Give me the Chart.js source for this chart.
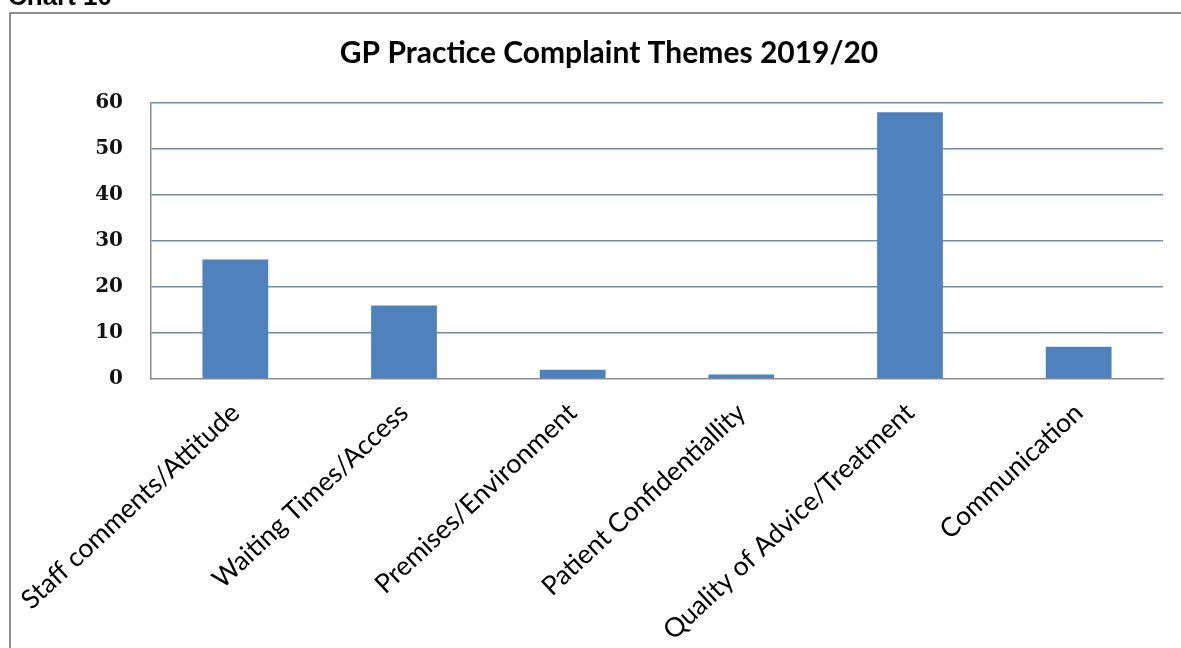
<!DOCTYPE html>
<html>
<head>
<meta charset="utf-8">
<script src="https://cdn.jsdelivr.net/npm/chart.js@4"></script>
<style>
  html, body { margin: 0; padding: 0; background: #fff; overflow: hidden; }
  #wrap { position: relative; width: 1181px; height: 648px; }
</style>
</head>
<body>
<div id="wrap"><canvas id="c" width="1181" height="648"></canvas></div>
<script>
// Complaint themes and counts for the year
const categories = [
  'Staff comments/Attitude',
  'Waiting Times/Access',
  'Premises/Environment',
  'Patient Confidentiallity',
  'Quality of Advice/Treatment',
  'Communication'
];
const complaints = [26, 16, 2, 1, 58, 7];
const yTicks = [0, 10, 20, 30, 40, 50, 60];

const chartTitle = 'GP Practice Complaint Themes 2019/20';
const captionText = 'Chart 10';

// Frame around the chart plus the caption heading above it
const framePlugin = {
  id: 'frame',
  beforeDraw(chart) {
    const ctx = chart.ctx;
    ctx.save();
    ctx.fillStyle = '#ffffff';
    ctx.fillRect(0, 0, chart.width, chart.height);
    ctx.strokeStyle = '#8e8e8e';
    ctx.lineWidth = 2;
    ctx.strokeRect(10, 13, chart.width + 40, chart.height + 40);
    ctx.fillStyle = '#000000';
    ctx.font = 'bold 26px "Liberation Sans", Arial, sans-serif';
    ctx.textBaseline = 'alphabetic';
    ctx.textAlign = 'left';
    ctx.fillText(captionText, 8, 5);
    ctx.restore();
  }
};

new Chart(document.getElementById('c'), {
  type: 'bar',
  data: {
    labels: categories,
    datasets: [{
      data: complaints,
      backgroundColor: '#4f81bd',
      borderWidth: 0,
      barPercentage: 0.39,
      categoryPercentage: 1.0
    }]
  },
  options: {
    responsive: false,
    animation: false,
    layout: { padding: { left: 55, right: 18, top: 0, bottom: 0 } },
    plugins: {
      legend: { display: false },
      tooltip: { enabled: false },
      title: {
        display: true,
        text: chartTitle,
        color: '#000000',
        font: { family: 'Lato', size: 30, weight: 'bold', lineHeight: 1.2 },
        padding: { top: 35, bottom: 32 }
      }
    },
    scales: {
      x: {
        grid: { display: false, drawTicks: false },
        border: { display: true, color: '#8c8c8c', width: 1.5 },
        ticks: {
          minRotation: 43,
          maxRotation: 43,
          autoSkip: false,
          padding: 18,
          color: '#000000',
          font: { family: 'Lato', size: 26.5 }
        },
        afterFit(scale) {
          // long slanted labels may hang past the plot's left edge
          scale.height = 269;
          scale.paddingLeft = 0;
          scale.paddingRight = 0;
        }
      },
      y: {
        min: 0,
        max: 60,
        afterBuildTicks(scale) { scale.ticks = yTicks.map(v => ({ value: v })); },
        grid: {
          drawTicks: false,
          color: (c) => c.tick && c.tick.value === 0 ? 'rgba(0,0,0,0)' : '#6d8eab',
          lineWidth: 1.5
        },
        border: { display: true, color: '#8c8c8c', width: 1.5 },
        ticks: {
          padding: 28,
          color: '#111111',
          font: { family: '"DejaVu Serif"', size: 20, weight: 'bold' }
        },
        afterFit(scale) { scale.width = 96; }
      }
    }
  },
  plugins: [framePlugin]
});
</script>
</body>
</html>
